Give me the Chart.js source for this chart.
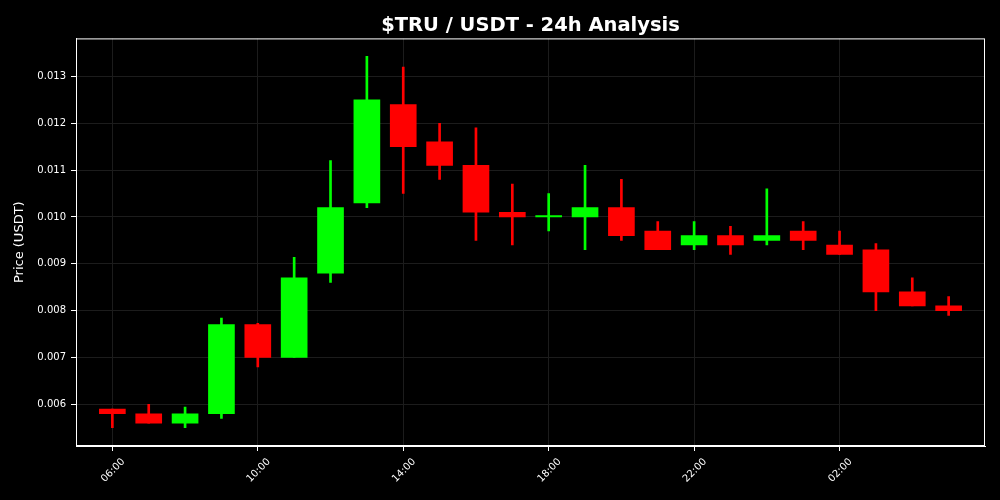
<!DOCTYPE html>
<html>
<head>
<meta charset="utf-8">
<script src="https://cdn.jsdelivr.net/npm/chart.js@4/dist/chart.umd.min.js"></script>
<style>
  html, body { margin: 0; padding: 0; background: #000; }
  #wrap { width: 1000px; height: 500px; }
</style>
</head>
<body>
<div id="wrap"><canvas id="candleChart" width="1000" height="500"></canvas></div>
<script>
// hourly candles, 06:00 -> 05:00 next day
const hours = ['06:00', '07:00', '08:00', '09:00', '10:00', '11:00', '12:00', '13:00',
               '14:00', '15:00', '16:00', '17:00', '18:00', '19:00', '20:00', '21:00',
               '22:00', '23:00', '00:00', '01:00', '02:00', '03:00', '04:00', '05:00'];
const opens  = [0.0059, 0.0058, 0.0056, 0.0058, 0.0077, 0.0070, 0.0088, 0.0103,
                0.0124, 0.0116, 0.0111, 0.0101, 0.01000, 0.0100, 0.0102, 0.0097,
                0.0094, 0.0096, 0.0095, 0.0097, 0.0094, 0.0093, 0.0084, 0.0081];
const highs  = [0.0059, 0.0060, 0.00594, 0.00784, 0.00773, 0.00914, 0.0112, 0.01343,
                0.0132, 0.0120, 0.0119, 0.0107, 0.0105, 0.0111, 0.0108, 0.0099,
                0.0099, 0.0098, 0.0106, 0.0099, 0.0097, 0.00943, 0.0087, 0.0083];
const lows   = [0.0055, 0.0056, 0.0055, 0.0057, 0.0068, 0.0070, 0.0086, 0.0102,
                0.0105, 0.0108, 0.0095, 0.0094, 0.0097, 0.0093, 0.0095, 0.0093,
                0.0093, 0.0092, 0.0094, 0.0093, 0.0092, 0.0080, 0.0081, 0.0079];
const closes = [0.0058, 0.0056, 0.0058, 0.0077, 0.0070, 0.0087, 0.0102, 0.0125,
                0.0115, 0.0111, 0.0101, 0.0100, 0.01003, 0.0102, 0.0096, 0.0093,
                0.0096, 0.0094, 0.0096, 0.0095, 0.0092, 0.0084, 0.0081, 0.0080];
const yTicks = [0.006, 0.007, 0.008, 0.009, 0.010, 0.011, 0.012, 0.013];

const UP = '#00ff00';
const DOWN = '#ff0000';
const colors = opens.map((o, i) => closes[i] >= o ? UP : DOWN);

const bodies = hours.map((h, i) => ({ x: i, y: [opens[i], closes[i]] }));
const wicks = hours.map((h, i) => ({ x: i, y: [lows[i], highs[i]] }));

// white frame round the plot area
const frame = {
    id: 'frame',
    afterDraw(chart) {
        const a = chart.chartArea;
        const ctx = chart.ctx;
        ctx.save();
        ctx.strokeStyle = '#ffffff';
        ctx.lineWidth = 1;
        ctx.strokeRect(a.left + 0.5, a.top + 0.5, a.right - a.left - 1, a.bottom - a.top - 1);
        ctx.restore();
    }
};

const bgFill = {
    id: 'bgFill',
    beforeDraw(chart) {
        const ctx = chart.ctx;
        ctx.save();
        ctx.fillStyle = '#000000';
        ctx.fillRect(0, 0, chart.width, chart.height);
        ctx.restore();
    }
};

Chart.defaults.font.family = '"DejaVu Sans", sans-serif';
Chart.defaults.color = '#ffffff';

const ctx = document.getElementById('candleChart').getContext('2d');
const myChart = new Chart(ctx, {
    type: 'bar',
    data: {
        datasets: [
            {
                label: 'wick',
                data: wicks,
                backgroundColor: colors,
                barThickness: 2,
                grouped: false,
                order: 2
            },
            {
                label: 'body',
                data: bodies,
                backgroundColor: colors,
                barThickness: 26,
                grouped: false,
                order: 1
            }
        ]
    },
    options: {
        responsive: false,
        animation: false,
        layout: { padding: { left: 0, right: 15, top: 0, bottom: 0 } },
        plugins: {
            legend: { display: false },
            tooltip: { enabled: false },
            title: {
                display: true,
                fullSize: false,
                text: '$TRU / USDT - 24h Analysis',
                color: '#ffffff',
                font: { size: 19.5, weight: 'bold' },
                padding: { top: 14, bottom: 1 }
            }
        },
        scales: {
            x: {
                type: 'linear',
                min: -1,
                max: 24,
                offset: false,
                afterFit: (scale) => { scale.height = 54; },
                afterBuildTicks: (scale) => {
                    scale.ticks = hours.map((h, i) => ({ value: i })).filter(t => t.value % 4 === 0);
                },
                ticks: {
                    color: '#ffffff',
                    font: { size: 10 },
                    maxRotation: 45,
                    minRotation: 45,
                    padding: 5,
                    labelOffset: 11,
                    callback: (v) => hours[v]
                },
                grid: {
                    offset: false,
                    color: '#1c1c1c',
                    tickColor: '#ffffff',
                    tickLength: 5,
                    drawTicks: true
                },
                border: { color: '#ffffff' }
            },
            y: {
                min: 0.005111,
                max: 0.01381,
                afterFit: (scale) => { scale.width = 76; },
                afterBuildTicks: (scale) => {
                    scale.ticks = yTicks.map(v => ({ value: v }));
                },
                ticks: {
                    color: '#ffffff',
                    font: { size: 10 },
                    padding: 5,
                    callback: (v) => v.toFixed(3)
                },
                grid: {
                    color: '#1c1c1c',
                    tickColor: '#ffffff',
                    tickLength: 5
                },
                border: { color: '#ffffff' },
                title: {
                    display: true,
                    text: 'Price (USDT)',
                    color: '#ffffff',
                    font: { size: 13 },
                    padding: { top: 12, bottom: 0 }
                }
            }
        }
    },
    plugins: [bgFill, frame]
});
</script>
</body>
</html>
